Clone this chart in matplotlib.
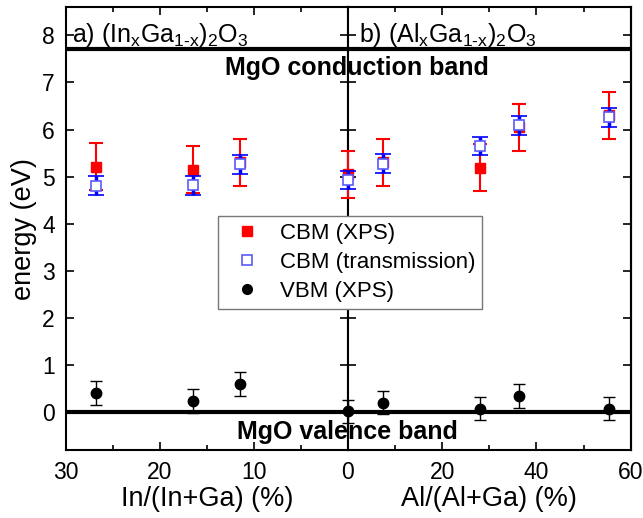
import numpy as np
import matplotlib.pyplot as plt
from matplotlib.lines import Line2D

plt.rcParams['font.family'] = ['Liberation Sans', 'DejaVu Sans']
plt.rcParams['mathtext.fontset'] = 'custom'
plt.rcParams['mathtext.rm'] = 'Liberation Sans'
plt.rcParams['mathtext.it'] = 'Liberation Sans:italic'

# (In,Ga)2O3 panel
in_x = [26.8, 16.5, 11.5]
in_cbm_xps = [5.21, 5.15, 5.31]
in_cbm_tr = [4.81, 4.82, 5.26]
in_vbm = [0.41, 0.24, 0.60]

# (Al,Ga)2O3 panel, first point is pure Ga2O3 (x = 0)
al_x = [0, 7.4, 28.1, 36.4, 55.5]
al_cbm_xps = [5.05, 5.31, 5.19, 6.05, 6.30]
al_cbm_tr = [4.93, 5.28, 5.65, 6.09, 6.26]
al_vbm = [0.02, 0.21, 0.08, 0.35, 0.08]

err_cbm_xps = 0.5
err_cbm_tr = 0.2
err_vbm = 0.25

mgo_cb = 7.7
mgo_vb = 0.0

fig = plt.figure(figsize=(6.43, 5.18), dpi=100)
ax1 = fig.add_axes([0.1026, 0.131, 0.4386, 0.8555])
ax2 = fig.add_axes([0.5412, 0.131, 0.4396, 0.8555])


def draw(ax, x, cx, ct, vb):
    ax.errorbar(x, cx, yerr=err_cbm_xps, fmt='s', color='red', ms=7.2,
                capsize=5, elinewidth=1.5, capthick=1.5, clip_on=False, zorder=3)
    ax.errorbar(x, ct, yerr=err_cbm_tr, fmt='s', mfc='white', mec='#5a5aff', mew=1.2,
                ms=6.8, ecolor='blue', elinewidth=2.5, capsize=5.5, capthick=2.5,
                clip_on=False, zorder=4)
    ax.errorbar(x, vb, yerr=err_vbm, fmt='o', color='black', ms=7.5,
                capsize=4, elinewidth=1, capthick=1, clip_on=False, zorder=5)
    ax.axhline(mgo_cb, color='black', lw=3, zorder=2)
    ax.axhline(mgo_vb, color='black', lw=3, zorder=2)


draw(ax1, in_x, in_cbm_xps, in_cbm_tr, in_vbm)
draw(ax2, al_x, al_cbm_xps, al_cbm_tr, al_vbm)

for ax in (ax1, ax2):
    ax.set_ylim(-0.8, 8.6)
    ax.set_yticks(range(0, 9))
    for s in ax.spines.values():
        s.set_linewidth(1.5)
    ax.tick_params(axis='x', which='both', direction='in', top=True, labelsize=16.5, width=1.2)
    ax.tick_params(axis='x', which='major', length=6, pad=8)
    ax.tick_params(axis='x', which='minor', length=3.5)

ax1.set_xlim(30, 0)
ax1.set_xticks([30, 20, 10])
ax1.set_xticks([25, 15, 5], minor=True)
ax1.tick_params(axis='y', direction='in', length=6, width=1.2, labelsize=16.5, right=False, pad=8)
ax1.set_ylabel('energy (eV)', fontsize=19.5, labelpad=4)
ax1.set_xlabel('In/(In+Ga) (%)', fontsize=19.5, labelpad=1)

ax2.set_xlim(0, 60)
ax2.set_xticks([0, 20, 40, 60])
ax2.set_xticks([10, 30, 50], minor=True)
ax2.tick_params(axis='y', direction='inout', length=12, width=1.2, labelleft=False)
ax2.set_xlabel('Al/(Al+Ga) (%)', fontsize=19.5, labelpad=1)

# right-side ticks point inward only
ax2r = ax2.secondary_yaxis('right')
ax2r.set_yticks(range(0, 9))
ax2r.tick_params(direction='in', length=6, width=1.2, labelright=False)
ax2.tick_params(axis='y', right=False)
ax2r.spines['right'].set_linewidth(1.5)

ax1.text(0.02, 8.0, r'a) (In$_\mathrm{x}$Ga$_\mathrm{1\text{-}x}$)$_\mathrm{2}$O$_\mathrm{3}$',
         transform=ax1.get_yaxis_transform(), fontsize=18, va='center', ha='left')
ax2.text(0.04, 8.0, r'b) (Al$_\mathrm{x}$Ga$_\mathrm{1\text{-}x}$)$_\mathrm{2}$O$_\mathrm{3}$',
         transform=ax2.get_yaxis_transform(), fontsize=18, va='center', ha='left')

fig.text(357 / 643, 1 - 68 / 518, 'MgO conduction band', fontsize=18, fontweight='bold',
         ha='center', va='center')
fig.text(347 / 643, 1 - 432 / 518, 'MgO valence band', fontsize=18, fontweight='bold',
         ha='center', va='center')

handles = [
    Line2D([], [], ls='none', marker='s', color='red', ms=7),
    Line2D([], [], ls='none', marker='s', mfc='white', mec='#5a5aff', mew=1.2, ms=6.5),
    Line2D([], [], ls='none', marker='o', color='black', ms=7),
]
leg = fig.legend(handles, ['CBM (XPS)', 'CBM (transmission)', 'VBM (XPS)'],
                 loc='upper left', bbox_to_anchor=(218 / 643, 1 - 216 / 518),
                 fontsize=16, frameon=True, fancybox=False, framealpha=1,
                 edgecolor='#777777', borderaxespad=0, handletextpad=0.5,
                 labelspacing=0.37, borderpad=0.3, handlelength=2.0)
leg.get_frame().set_linewidth(1)

fig.savefig('out.png', dpi=100)
